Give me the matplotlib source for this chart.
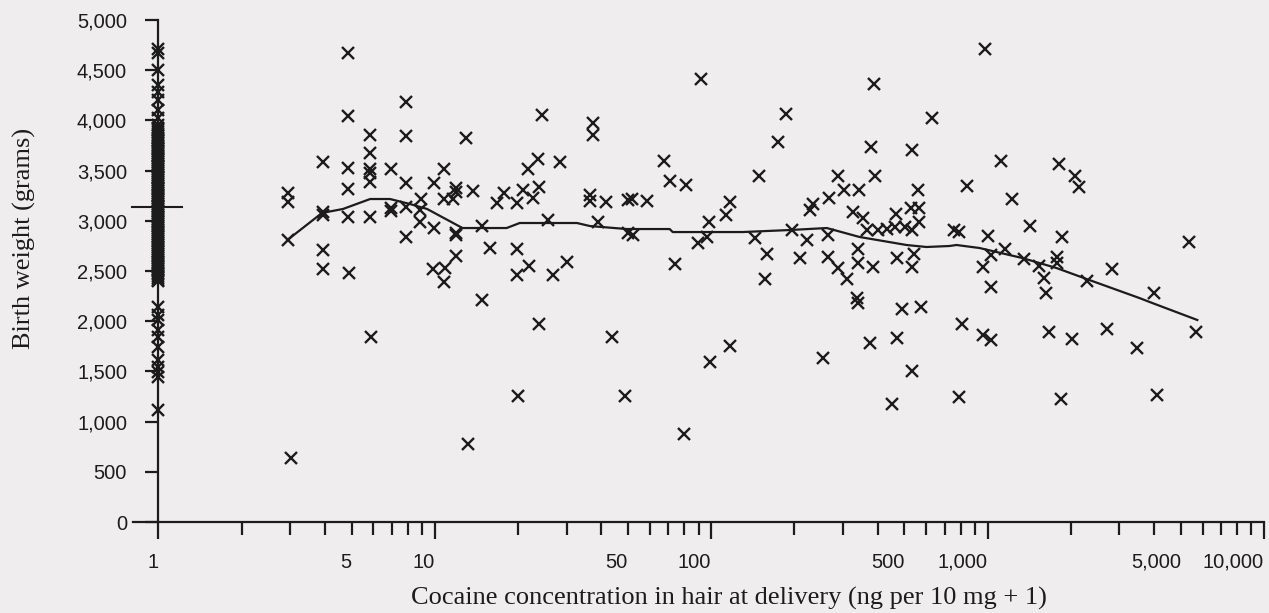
import matplotlib
matplotlib.use("Agg")
import matplotlib.pyplot as plt
from matplotlib.ticker import FixedLocator, FixedFormatter

# cocaine concentration (ng per 10 mg + 1) and birth weight (g)
conc = [2.95, 2.95, 2.95, 3.03,
        3.95, 3.95, 3.95, 3.95, 3.95,
        4.86, 4.86, 4.86, 4.86, 4.86, 4.90,
        5.84, 5.84, 5.84, 5.84, 5.84, 5.84, 5.89,
        6.95, 6.95, 6.95,
        7.87, 7.87, 7.87, 7.87, 7.87,
        8.92, 8.85, 8.85,
        9.94, 9.94, 9.86, 10.9, 10.8, 10.8, 10.8,
        11.6, 11.9, 11.9, 11.9, 11.9, 11.9, 13.0, 13.2, 13.7,
        14.8, 14.8, 15.8, 16.8, 17.8, 19.8, 19.8, 19.8, 20.0,
        20.8, 21.7, 21.9, 22.7, 23.6, 23.8, 23.8, 24.4, 25.7, 26.8, 28.4, 30.1,
        36.4, 36.4, 37.3, 37.3, 38.9, 41.6, 43.7, 48.7, 50.0, 50.0, 51.6, 52.1, 58.5,
        67.4, 70.8, 73.9, 79.6, 80.9, 89.5, 91.7, 96.4, 97.9, 98.9,
        113, 117, 117, 144, 149, 156, 159, 174, 186, 196, 209, 222, 227, 233,
        253, 264, 264, 268, 287, 287, 302, 309, 325, 342, 339, 339, 336, 339,
        353, 365, 374, 378, 384, 387, 390, 400, 431, 450, 461, 465, 469, 472,
        492, 501, 527, 531, 531, 531, 535, 540, 558, 567, 567, 572, 632,
        759, 791, 791, 805, 846, 959, 959, 975, 1000, 1033, 1033, 1033,
        1114, 1161, 1230, 1359, 1429, 1540, 1606, 1633, 1675, 1790, 1790,
        1820, 1849, 1866, 2027, 2080, 2148, 2296, 2712, 2825, 3480, 4011,
        4111, 5370, 5690]
weight = [3277, 3187, 2809, 637,
          3586, 3088, 3058, 2709, 2520,
          4671, 4044, 3526, 3317, 3038, 2480,
          3855, 3675, 3516, 3476, 3386, 3038, 1843,
          3516, 3127, 3098,
          4183, 3845, 3376, 3137, 2839,
          3217, 3108, 2988,
          3376, 2928, 2520, 2530, 3516, 3217, 2390,
          3217, 3327, 3287, 2878, 2859, 2649, 3825, 776, 3297,
          2948, 2210, 2729, 3177, 3277, 3177, 2719, 2460, 1255,
          3307, 3516, 2550, 3227, 3615, 3337, 1972, 4054, 3008, 2460, 3586, 2590,
          3257, 3197, 3974, 3855, 2988, 3187, 1843, 1255, 3207, 2878, 3217, 2859, 3197,
          3596, 3396, 2570, 876, 3357, 2779, 4412, 2839, 2988, 1594,
          3058, 3187, 1753, 2829, 3446, 2420, 2669, 3785, 4064, 2908, 2629, 2809, 3108, 3167,
          1633, 2859, 2639, 3227, 2530, 3446, 3307, 2420, 3088, 3307, 2719, 2580, 2231, 2181,
          3028, 2908, 1783, 3735, 2540, 4362, 3446, 2908, 2918, 1175, 2938, 3068, 1833, 2629,
          2121, 2938, 3127, 3705, 2908, 1504, 2540, 2669, 3307, 3127, 2988, 2141, 4024,
          2908, 2889, 1245, 1972, 3347, 1863, 2540, 4711, 2849, 2659, 2341, 1813,
          3596, 2719, 3217, 2619, 2948, 2550, 2430, 2281, 1892, 2639, 2580,
          3566, 1225, 2839, 1823, 3446, 3337, 2400, 1922, 2520, 1733, 2281,
          1265, 2789, 1892]

# unexposed infants, all plotted at concentration 1
weight_zero = [4711, 4671, 4502, 4353, 4283, 4203, 4104, 4024, 3954,
               3920, 3900, 3880, 3860, 3840, 3820, 3800, 3790, 3770, 3750, 3730,
               3720, 3700, 3680, 3660, 3650, 3630, 3610, 3590, 3570, 3550, 3540,
               3520, 3500, 3480, 3460, 3440, 3430, 3410, 3390, 3370, 3350, 3330,
               3320, 3300, 3280, 3260, 3250, 3230, 3210, 3190, 3170, 3150, 3140,
               3120, 3100, 3080, 3060, 3040, 3020, 3000, 2990, 2970, 2950, 2930,
               2910, 2890, 2870, 2850, 2840, 2820, 2800, 2780, 2760, 2740, 2720,
               2700, 2690, 2670, 2650, 2630, 2610, 2590, 2570, 2550, 2540, 2520,
               2500, 2480, 2470, 2450, 2430, 2410, 2400,
               2141, 2062, 2012, 1912, 1843, 1743, 1614, 1544, 1494, 1444, 1116]
mean_zero = 3140

# smoothed curve
smooth_x = [2.93, 3.26, 3.91, 4.66, 5.84, 6.89, 8.14, 9.38, 12.6, 18.2, 20.3,
            32.7, 36.4, 49.5, 70.8, 72.6, 130, 192, 262, 344, 509, 601, 728,
            772, 935, 1337, 1774, 2336, 3540, 3945, 5738]
smooth_y = [2809, 2908, 3078, 3118, 3217, 3217, 3167, 3118, 2928, 2928, 2978,
            2978, 2948, 2918, 2918, 2888, 2888, 2908, 2928, 2839, 2759, 2739, 2749,
            2759, 2729, 2629, 2530, 2410, 2231, 2181, 2012]

decades = [1, 10, 100, 1000]
x_major = [1, 10, 100, 1000, 10000]
x_major_labels = ["1", "10", "100", "1,000", "10,000"]
x_minor = [m * d for d in decades for m in range(2, 10)]
five_labels = {5: "5", 50: "50", 500: "500", 5000: "5,000"}
x_minor_labels = [five_labels.get(v, "") for v in x_minor]
y_ticks = list(range(0, 5001, 500))

bg = "#efedee"
ink = "#1c1c1c"

fig = plt.figure(figsize=(12.69, 6.13), dpi=100, facecolor=bg)
ax = fig.add_axes([133 / 1269, 1 - 522 / 613, (1264 - 133) / 1269, (522 - 20) / 613])
ax.set_facecolor(bg)

ax.plot(conc, weight, ls="none", marker="x", ms=8.5, mew=1.7, color=ink, clip_on=False)
ax.plot([1] * len(weight_zero), weight_zero, ls="none", marker="x", ms=8.5, mew=1.7,
        color=ink, clip_on=False)
ax.plot([0.8, 1.22], [mean_zero, mean_zero], color=ink, lw=1.5, clip_on=False)
ax.plot(smooth_x, smooth_y, color=ink, lw=1.6)

ax.set_xscale("log")
ax.set_xlim(0.81, 10000)
ax.set_ylim(0, 5000)

for s in ["top", "right"]:
    ax.spines[s].set_visible(False)
ax.spines["left"].set_position(("data", 1))
for s in ["left", "bottom"]:
    ax.spines[s].set_linewidth(1.6)
    ax.spines[s].set_color(ink)

ax.xaxis.set_major_locator(FixedLocator(x_major))
ax.xaxis.set_major_formatter(FixedFormatter(x_major_labels))
ax.xaxis.set_minor_locator(FixedLocator(x_minor))
ax.xaxis.set_minor_formatter(FixedFormatter(x_minor_labels))
ax.set_yticks(y_ticks)
ax.set_yticklabels([f"{v:,}" for v in y_ticks])

ax.tick_params(axis="x", which="major", direction="out", length=12, width=1.6, pad=10, colors=ink)
ax.tick_params(axis="x", which="minor", direction="out", length=9, width=1.6, pad=13, colors=ink)
ax.tick_params(axis="y", which="major", direction="out", length=9.5, width=1.6, pad=13, colors=ink)

for lab in ax.get_xticklabels(which="both") + ax.get_yticklabels():
    lab.set_fontfamily("Liberation Sans")
    lab.set_fontsize(14.5)
    lab.set_color(ink)
# the scan sets the x labels flush right against their ticks
for lab in ax.get_xticklabels(which="both"):
    lab.set_horizontalalignment("right")

fig.text(24 / 1269, 1 - 238 / 613, "Birth weight (grams)", rotation=90, ha="center",
         va="center", family="Liberation Serif", fontsize=19, color=ink)
fig.text(729 / 1269, 1 - 598 / 613, "Cocaine concentration in hair at delivery (ng per 10 mg + 1)",
         ha="center", va="center", family="Liberation Serif", fontsize=19, color=ink)

fig.savefig("out.png", dpi=100, facecolor=bg)
